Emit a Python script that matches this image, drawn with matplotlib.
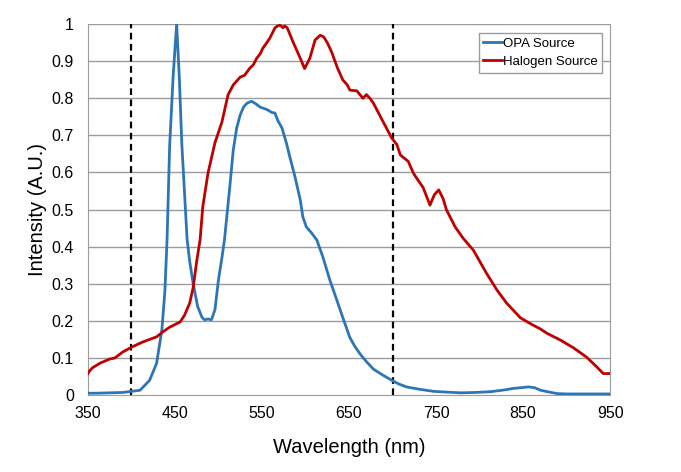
import matplotlib
matplotlib.use("Agg")
import matplotlib.pyplot as plt
from matplotlib.ticker import FuncFormatter

plt.rcParams["font.family"] = ["Liberation Sans", "DejaVu Sans"]

# OPA source spectrum (wavelength nm, normalised intensity)
opa_wl = [350, 360, 375, 390, 400, 410, 421, 429, 435, 438.5, 441, 444, 448, 452, 455, 458, 464,
          467, 471, 476, 481, 484, 488, 492, 496, 500, 504, 507, 510, 513, 517, 521,
          525, 529, 533, 538, 543, 548, 553, 557, 561, 565, 568, 573, 578, 582, 588, 594, 597, 601,
          607, 613, 620, 628, 636, 643, 651, 657, 663, 670, 678, 688, 699, 707,
          716, 730, 747, 762, 778, 795, 812, 826, 839, 848, 856, 863, 870, 880, 889,
          900, 920, 950]
opa_y = [0.005, 0.005, 0.006, 0.007, 0.01, 0.013, 0.04, 0.086, 0.175, 0.28, 0.42, 0.674, 0.86, 1.0, 0.86, 0.674, 0.42,
         0.36, 0.30, 0.24, 0.21, 0.203, 0.205, 0.203, 0.23, 0.31, 0.37, 0.42, 0.49, 0.56, 0.66, 0.72,
         0.755, 0.777, 0.787, 0.792, 0.785, 0.776, 0.772, 0.768, 0.762, 0.76, 0.741, 0.72, 0.68, 0.642, 0.588, 0.526, 0.48, 0.453,
         0.437, 0.418, 0.372, 0.31, 0.256, 0.208, 0.155, 0.13, 0.11, 0.09, 0.07, 0.055, 0.04, 0.03,
         0.022, 0.016, 0.01, 0.008, 0.006, 0.007, 0.009, 0.013, 0.018, 0.02, 0.022, 0.02, 0.013, 0.008, 0.004,
         0.003, 0.003, 0.003]

# Halogen source spectrum
hal_wl = [350, 352, 355, 364, 375, 381, 390, 401, 413, 429, 436, 444, 456, 461, 467,
          471, 475, 479, 482, 488, 496, 504, 511, 517, 525, 530, 536, 540, 544, 548,
          551, 555, 559, 565, 568, 571, 574, 576, 579, 586, 594, 599, 605, 611, 617,
          621, 625, 630, 637, 643, 648, 651, 659, 666, 670, 674, 678, 684, 690, 699,
          705, 709, 718, 724, 729, 735, 743, 748, 753, 758,
          762, 772, 781, 793, 808, 820, 831, 847, 861, 870, 877, 893, 908, 923, 935,
          942, 950]
hal_y = [0.058, 0.065, 0.073, 0.086, 0.097, 0.10, 0.116, 0.13, 0.143, 0.157, 0.17, 0.183, 0.197, 0.215, 0.248,
         0.29, 0.36, 0.42, 0.507, 0.598, 0.68, 0.736, 0.809, 0.836, 0.857, 0.862, 0.881, 0.89, 0.908, 0.92,
         0.935, 0.948, 0.962, 0.99, 0.995, 0.997, 0.99, 0.995, 0.99, 0.95, 0.908, 0.88, 0.908, 0.957, 0.97,
         0.965, 0.95, 0.925, 0.88, 0.849, 0.836, 0.822, 0.82, 0.80, 0.81, 0.80, 0.787, 0.76, 0.733, 0.693,
         0.675, 0.647, 0.63, 0.598, 0.58, 0.56, 0.512, 0.54, 0.553, 0.53,
         0.499, 0.453, 0.423, 0.39, 0.328, 0.283, 0.248, 0.208, 0.189, 0.178, 0.167, 0.148, 0.127, 0.102, 0.075,
         0.058, 0.058]

cutoffs = [400, 700]

fig = plt.figure(figsize=(6.81, 4.72), dpi=100)
ax = fig.add_axes([0.129, 0.163, 0.767, 0.786])

for yv in [0.1 * i for i in range(1, 11)]:
    ax.axhline(yv, color="#9c9c9c", lw=1.0, zorder=0)

for c in cutoffs:
    ax.axvline(c, color="black", lw=1.6, ls=(0, (3, 2)), zorder=3)

ax.plot(opa_wl, opa_y, color="#2e75b6", lw=2.0, label="OPA Source", zorder=4)
ax.plot(hal_wl, hal_y, color="#c00000", lw=2.0, label="Halogen Source", zorder=4)

ax.set_xlim(350, 950)
ax.set_ylim(0, 1)
ax.set_xticks(range(350, 951, 100))
ax.set_yticks([0.1 * i for i in range(11)])
ax.yaxis.set_major_formatter(FuncFormatter(lambda v, p: f"{v:.1f}".rstrip("0").rstrip(".") if v else "0"))
ax.tick_params(length=0, labelsize=11.5, pad=8)
ax.tick_params(axis="y", pad=10)

ax.spines["top"].set_visible(False)
for s in ["left", "right", "bottom"]:
    ax.spines[s].set_color("#9c9c9c")

ax.set_xlabel("Wavelength (nm)", fontsize=14.5, labelpad=12)
ax.set_ylabel("Intensity (A.U.)", fontsize=14.5, labelpad=3)

leg = ax.legend(loc="upper right", bbox_to_anchor=(0.985, 0.976), fontsize=9.5,
                fancybox=False, framealpha=1, edgecolor="#9c9c9c",
                handlelength=1.4, handletextpad=0.1, borderpad=0.35, labelspacing=0.45,
                borderaxespad=0)
leg.get_frame().set_linewidth(1.0)

fig.savefig("out.png", dpi=100)
